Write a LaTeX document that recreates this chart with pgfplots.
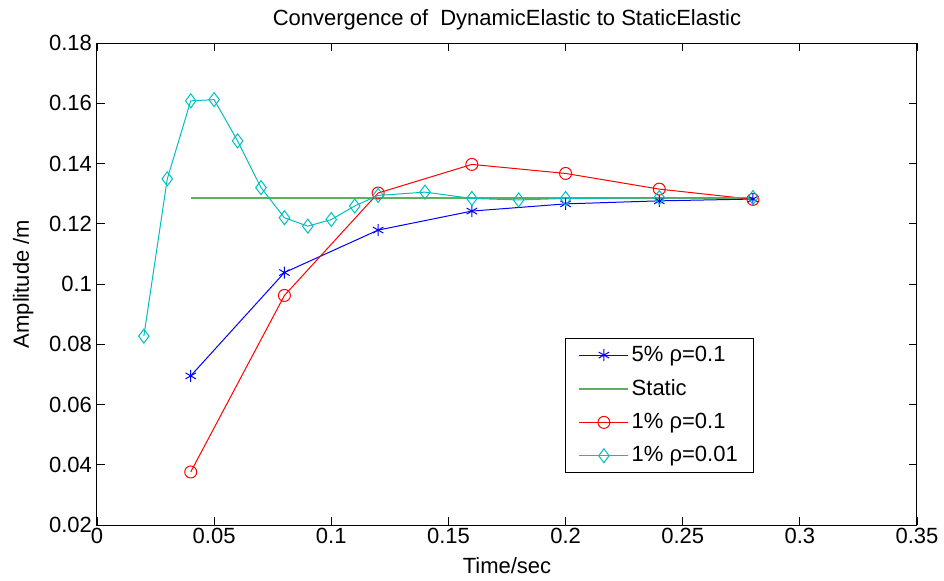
\documentclass[border=0pt]{standalone}
\usepackage{pgfplots}
\pgfplotsset{compat=1.18}
\usepackage{fontspec}
\setmainfont{Liberation Sans}
\definecolor{mgreen}{RGB}{95,175,95}
\definecolor{mcyan}{RGB}{0,191,191}
\begin{document}
\begin{tikzpicture}
\begin{axis}[
  scale only axis,
  width=410pt, height=241pt,
  xmin=0, xmax=0.35, ymin=0.02, ymax=0.18,
  xtick={0,0.05,...,0.35},
  ytick={0.02,0.04,...,0.18},
  xticklabels={0,0.05,0.1,0.15,0.2,0.25,0.3,0.35},
  yticklabels={0.02,0.04,0.06,0.08,0.1,0.12,0.14,0.16,0.18},
  tick align=inside,
  major tick length=4pt,
  tick style={black, line width=0.4pt},
  axis line style={black, line width=0.5pt},
  ticklabel style={font=\fontsize{11}{12}\selectfont},
  xticklabel style={yshift=2pt},
  yticklabel style={xshift=1pt},
  title={Convergence of\ \ DynamicElastic to StaticElastic},
  title style={font=\fontsize{11}{12}\selectfont, yshift=-3pt},
  xlabel={Time/sec},
  ylabel={Amplitude /m},
  label style={font=\fontsize{11}{12}\selectfont},
  xlabel style={yshift=0pt},
  ylabel style={yshift=1pt},
  legend style={at={(0.801,0.108)}, anchor=south east, draw=black, line width=0.5pt,
    font=\fontsize{11}{12}\selectfont, row sep=5pt, inner xsep=6.5pt, inner ysep=2.5pt,
    nodes={inner sep=1.25pt},
    cells={anchor=west}},
  legend image code/.code={\draw[#1] (0pt,0pt) -- (24.5pt,0pt); \draw[#1, mark repeat=2, mark phase=2] plot coordinates {(0pt,0pt) (12.25pt,0pt) (24.5pt,0pt)};},
]
\addplot[blue, line width=0.5pt, mark=asterisk, mark size=3pt, mark options={solid}] coordinates {
(0.04,0.0695) (0.08,0.1038) (0.12,0.1179) (0.16,0.1242) (0.20,0.1266) (0.24,0.1276) (0.28,0.1282)};
\addlegendentry{5\% ρ=0.1}
\addplot[mgreen, line width=0.8pt, mark=none] coordinates {
(0.04,0.1285) (0.28,0.1285)};
\addlegendentry{Static}
\addplot[red, line width=0.5pt, mark=o, mark size=3pt] coordinates {
(0.04,0.0376) (0.08,0.0962) (0.12,0.1302) (0.16,0.1397) (0.20,0.1367) (0.24,0.1315) (0.28,0.1281)};
\addlegendentry{1\% ρ=0.1}
\addplot[mcyan, line width=0.5pt, mark=diamond, mark size=3.5pt] coordinates {
(0.02,0.0827) (0.03,0.1349) (0.04,0.1608) (0.05,0.1612) (0.06,0.1475) (0.07,0.1320) (0.08,0.1220) (0.09,0.1192) (0.10,0.1214) (0.11,0.1259) (0.12,0.1294) (0.14,0.1305) (0.16,0.1284) (0.18,0.1279) (0.20,0.1284) (0.24,0.1287) (0.28,0.1287)};
\addlegendentry{1\% ρ=0.01}
\end{axis}
\pgfresetboundingbox
\path[use as bounding box] (-48.5pt,-27.5pt) rectangle (423.5pt,262.5pt);
\end{tikzpicture}
\end{document}
